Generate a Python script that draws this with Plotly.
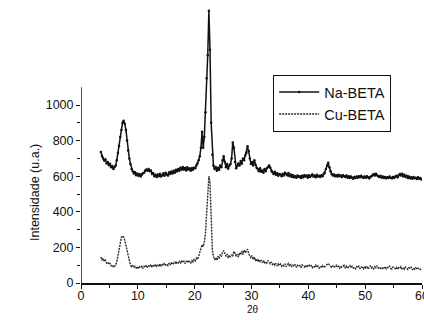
import numpy as np
import plotly.graph_objects as go

# Diffraction scans, sampled every 0.2 degrees from 3.5 to 59.9 (2-theta)
TWO_THETA_START = 3.5
TWO_THETA_STEP = 0.2

# Na-BETA intensity (u.a.), ten samples per row
na_beta = [
    736, 712, 700, 688, 694, 672, 680, 662, 670, 650,   # 3.5 - 5.3
    658, 640, 652, 660, 690, 730, 770, 820, 860, 900,   # 5.5 - 7.3
    912, 895, 860, 800, 745, 700, 668, 640, 628, 615,   # 7.5 - 9.3
    622, 605, 615, 602, 612, 598, 610, 616, 620, 632,   # 9.5 - 11.3
    638, 630, 640, 628, 632, 612, 618, 600, 608, 596,   # 11.5 - 13.3
    610, 600, 614, 598, 606, 616, 602, 620, 610, 604,   # 13.5 - 15.3
    622, 612, 626, 615, 630, 620, 636, 626, 640, 630,   # 15.5 - 17.3
    648, 636, 652, 638, 646, 632, 650, 638, 644, 630,   # 17.5 - 19.3
    646, 636, 648, 645, 660, 672, 690, 712, 760, 850,   # 19.5 - 21.3
    760, 820, 960, 1150, 1280, 1530, 1310, 900, 720, 660,  # 21.5 - 23.3
    640, 652, 630, 648, 636, 660, 650, 690, 712, 680,   # 23.5 - 25.3
    650, 668, 642, 660, 668, 700, 790, 760, 680, 645,   # 25.5 - 27.3
    658, 672, 660, 685, 670, 700, 690, 716, 730, 768,   # 27.5 - 29.3
    740, 700, 668, 680, 660, 690, 665, 648, 640, 628,   # 29.5 - 31.3
    645, 625, 632, 620, 640, 628, 645, 652, 660, 648,   # 31.5 - 33.3
    630, 622, 612, 625, 608, 616, 602, 612, 610, 600,   # 33.5 - 35.3
    614, 604, 620, 612, 605, 618, 600, 610, 596, 605,   # 35.5 - 37.3
    594, 600, 592, 604, 596, 600, 590, 602, 594, 606,   # 37.5 - 39.3
    598, 604, 592, 606, 596, 602, 610, 598, 604, 594,   # 39.5 - 41.3
    608, 598, 602, 596, 606, 600, 612, 620, 640, 660,   # 41.5 - 43.3
    676, 650, 628, 612, 604, 610, 600, 606, 598, 608,   # 43.5 - 45.3
    600, 604, 596, 606, 600, 596, 604, 592, 600, 590,   # 45.5 - 47.3
    598, 592, 586, 596, 590, 598, 592, 600, 594, 602,   # 47.5 - 49.3
    596, 590, 598, 592, 600, 594, 588, 596, 600, 606,   # 49.5 - 51.3
    612, 604, 614, 606, 600, 596, 602, 592, 598, 590,   # 51.5 - 53.3
    596, 588, 594, 590, 598, 592, 588, 596, 590, 598,   # 53.5 - 55.3
    602, 594, 606, 612, 604, 614, 600, 608, 596, 602,   # 55.5 - 57.3
    590, 598, 588, 594, 586, 596, 588, 592, 584, 594,   # 57.5 - 59.3
    586, 590, 582,                                      # 59.5 - 59.9
]

# Cu-BETA intensity (u.a.), same sampling
cu_beta = [
    146, 130, 138, 120, 128, 112, 118, 104, 110, 96,    # 3.5 - 5.3
    102, 88, 94, 100, 120, 150, 190, 230, 255, 265,     # 5.5 - 7.3
    258, 240, 210, 175, 140, 115, 100, 92, 98, 86,      # 7.5 - 9.3
    94, 84, 92, 80, 90, 86, 96, 82, 94, 88,             # 9.5 - 11.3
    100, 86, 96, 90, 104, 88, 98, 92, 106, 94,          # 11.5 - 13.3
    100, 92, 108, 96, 104, 98, 112, 100, 106, 98,       # 13.5 - 15.3
    112, 102, 116, 104, 110, 118, 106, 120, 112, 124,   # 15.5 - 17.3
    110, 126, 116, 122, 108, 124, 114, 128, 118, 112,   # 17.5 - 19.3
    126, 118, 132, 124, 140, 132, 150, 170, 200, 215,   # 19.5 - 21.3
    205, 230, 280, 400, 520, 600, 560, 330, 190, 150,   # 21.5 - 23.3
    130, 142, 128, 150, 138, 160, 148, 172, 182, 168,   # 23.5 - 25.3
    150, 162, 140, 156, 145, 160, 150, 178, 168, 150,   # 25.5 - 27.3
    162, 145, 170, 158, 180, 160, 185, 170, 178, 190,   # 27.5 - 29.3
    165, 150, 140, 154, 132, 146, 124, 136, 120, 132,   # 29.5 - 31.3
    118, 128, 114, 126, 110, 120, 112, 126, 116, 108,   # 31.5 - 33.3
    118, 104, 112, 100, 110, 96, 108, 98, 106, 94,      # 33.5 - 35.3
    104, 96, 108, 92, 102, 110, 94, 106, 90, 100,       # 35.5 - 37.3
    94, 104, 88, 100, 92, 98, 86, 102, 94, 90,          # 37.5 - 39.3
    100, 88, 96, 104, 92, 98, 86, 96, 90, 100,          # 39.5 - 41.3
    88, 96, 84, 94, 90, 98, 86, 92, 100, 106,           # 41.5 - 43.3
    110, 102, 94, 88, 96, 86, 92, 100, 88, 94,          # 43.5 - 45.3
    84, 96, 88, 92, 100, 86, 94, 82, 90, 98,            # 45.5 - 47.3
    86, 94, 84, 90, 80, 92, 86, 96, 82, 90,             # 47.5 - 49.3
    88, 80, 94, 84, 90, 78, 88, 96, 84, 90,             # 49.5 - 51.3
    80, 92, 86, 98, 84, 90, 82, 88, 78, 86,             # 51.5 - 53.3
    92, 80, 88, 84, 94, 82, 78, 90, 84, 80,             # 53.5 - 55.3
    88, 76, 86, 82, 92, 80, 86, 78, 90, 82,             # 55.5 - 57.3
    76, 86, 80, 88, 74, 84, 78, 86, 76, 82,             # 57.5 - 59.3
    84, 76, 80,                                         # 59.5 - 59.9
]

two_theta = np.round(TWO_THETA_START + TWO_THETA_STEP * np.arange(len(na_beta)), 1)

x_ticks = [0, 10, 20, 30, 40, 50, 60]
x_minor = [5, 15, 25, 35, 45, 55]
y_ticks = [0, 200, 400, 600, 800, 1000]
y_minor = [100, 300, 500, 700, 900]
y_axis_top = 1100

FONT = "Liberation Sans, Arial, sans-serif"

fig = go.Figure()
fig.add_trace(go.Scatter(
    x=two_theta, y=na_beta, name="Na-BETA", mode="lines+markers",
    line=dict(color="#111111", width=1.5),
    marker=dict(color="#111111", size=2.5),
))
fig.add_trace(go.Scatter(
    x=two_theta, y=cu_beta, name="Cu-BETA", mode="lines",
    line=dict(color="#2a2a2a", width=1.4, dash="2px,1px"),
))

# Left axis line stops at the top of the scale while the data may run above it
fig.add_shape(type="line", xref="x", yref="y", x0=0, x1=0, y0=0, y1=y_axis_top,
              line=dict(color="#111111", width=1.5))

fig.update_layout(
    width=424, height=320,
    margin=dict(l=81, r=2, t=0, b=37),
    paper_bgcolor="white", plot_bgcolor="white",
    font=dict(family=FONT, color="#111111", size=12.5),
    showlegend=True,
    legend=dict(
        x=0.563, y=0.735, xanchor="left", yanchor="top",
        bordercolor="#111111", borderwidth=1.2, bgcolor="white",
        font=dict(size=14.5, family=FONT), itemwidth=40,
        tracegroupgap=0,
    ),
    xaxis=dict(
        range=[0, 60], showgrid=False, zeroline=False, automargin=False,
        showline=True, linecolor="#111111", linewidth=1.5,
        tickvals=x_ticks, ticktext=[str(v) for v in x_ticks],
        ticks="outside", ticklen=4, tickwidth=1.2, tickcolor="#111111",
        minor=dict(tickvals=x_minor, ticks="outside", ticklen=3, tickcolor="#111111"),
        tickfont=dict(size=12.5), ticklabeloverflow="allow", ticklabelstandoff=-4,
    ),
    yaxis=dict(
        range=[0, 1590], showgrid=False, zeroline=False, showline=False, automargin=False,
        tickvals=y_ticks, ticktext=[str(v) for v in y_ticks],
        ticks="outside", ticklen=4, tickwidth=1.2, tickcolor="#111111",
        minor=dict(tickvals=y_minor, ticks="outside", ticklen=3, tickcolor="#111111"),
        tickfont=dict(size=12.5),
    ),
    annotations=[
        dict(text="2θ", xref="paper", yref="paper", x=(253 - 81) / 341, y=-(309 - 283) / 283,
             xanchor="center", yanchor="middle", showarrow=False, font=dict(size=10)),
        dict(text="Intensidade (u.a.)", xref="paper", yref="paper",
             x=(35 - 81) / 341, y=(283 - 193) / 283, textangle=-90,
             xanchor="center", yanchor="middle", showarrow=False, font=dict(size=12.5)),
    ],
)

fig.write_html("out.html")
